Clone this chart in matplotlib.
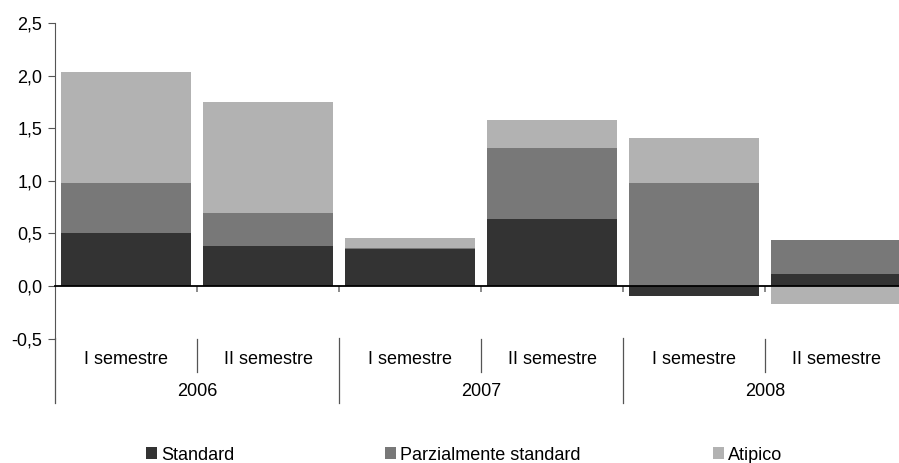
import matplotlib.pyplot as plt
import numpy as np
from matplotlib.patches import Patch
from matplotlib.lines import Line2D
from matplotlib.transforms import blended_transform_factory

plt.rcParams['font.family'] = 'Liberation Sans'
plt.rcParams['font.size'] = 13

# --- data ---
years = ['2006', '2007', '2008']
semesters = ['I semestre', 'II semestre'] * 3
standard = [0.50, 0.38, 0.355, 0.64, -0.10, 0.115]
parziale = [0.48, 0.315, 0.005, 0.675, 0.98, 0.325]
atipico = [1.05, 1.055, 0.10, 0.265, 0.43, -0.17]

series = [('Standard', standard, '#333333'),
          ('Parzialmente standard', parziale, '#787878'),
          ('Atipico', atipico, '#b2b2b2')]

W, H = 899, 463
fig = plt.figure(figsize=(W / 100, H / 100), dpi=100)
ax = fig.add_axes([55 / W, 1 - 338.5 / H, 852 / W, 315.5 / H])

x = np.arange(len(standard))
pos_base = np.zeros(len(x))
neg_base = np.zeros(len(x))
for name, vals, col in series:
    vals = np.array(vals)
    base = np.where(vals >= 0, pos_base, neg_base)
    ax.bar(x, vals, width=0.915, bottom=base, color=col, linewidth=0, zorder=2)
    pos_base += np.where(vals >= 0, vals, 0)
    neg_base += np.where(vals < 0, vals, 0)

ax.set_xlim(-0.5, 5.5)
ax.set_ylim(-0.5, 2.5)
yt = np.arange(-0.5, 2.51, 0.5)
ax.set_yticks(yt)
ax.set_yticklabels([f'{v:.1f}'.replace('.', ',') for v in yt])

for s in ['top', 'right']:
    ax.spines[s].set_visible(False)
ax.spines['left'].set_color('#555555')
ax.spines['bottom'].set_position(('data', 0))
ax.spines['bottom'].set_color('black')
ax.spines['bottom'].set_linewidth(1.3)
ax.spines['bottom'].set_zorder(3)
ax.set_xticks(np.arange(0.5, 5.5, 1.0))
ax.set_xticklabels([])
ax.tick_params(axis='x', direction='out', length=4, color='#777777', width=1.2)
ax.tick_params(axis='y', direction='out', length=5, color='#555555', pad=4)

# category labels below the plot
tr = blended_transform_factory(ax.transData, fig.transFigure)
fy = lambda py: 1 - py / H
for i, lab in enumerate(semesters):
    fig.text(i, fy(360), lab, transform=tr, ha='center', va='center')
for j, yr in enumerate(years):
    fig.text(2 * j + 0.5, fy(391), yr, transform=tr, ha='center', va='center')
# separators
for b in [0.5, 2.5, 4.5]:
    fig.add_artist(Line2D([b, b], [fy(339), fy(372)], transform=tr, color='#555555', lw=0.9))
for b in [-0.5, 1.5, 3.5]:
    fig.add_artist(Line2D([b, b], [fy(338), fy(403)], transform=tr, color='#555555', lw=0.9))

# legend entries placed in fixed slots
for (name, _, col), px in zip(series, [146, 385, 713]):
    fig.legend(handles=[Patch(facecolor=col, edgecolor='none', label=name)],
               loc='center left', bbox_to_anchor=(px / W, fy(455)), frameon=False,
               handlelength=0.6, handleheight=0.6, handletextpad=0.25,
               borderpad=0, borderaxespad=0)

fig.savefig('out.png', dpi=100)
